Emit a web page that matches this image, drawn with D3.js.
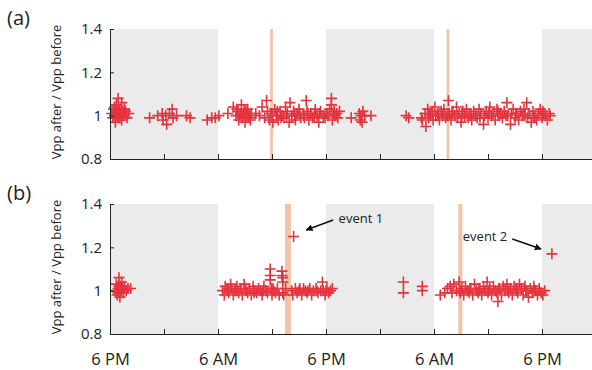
<!DOCTYPE html>
<html>
<head>
<meta charset="utf-8">
<script src="https://cdn.jsdelivr.net/npm/d3@7"></script>
<style>
  html, body { margin: 0; padding: 0; background: #fff; }
  svg { display: block; font-family: "Open Sans", sans-serif; }
</style>
</head>
<body>
<div id="chart"></div>
<script>
// hours after 6 PM on the first evening
const xTicks = [0, 6, 12, 18, 24, 30, 36, 42, 48];
const xLabels = { 0: '6 PM', 12: '6 AM', 24: '6 PM', 36: '6 AM', 48: '6 PM' };
const yTicks = [0.8, 1, 1.2, 1.4];
const nights = [[0, 12], [24, 36], [48, 54]];
const eventsA = [[17.8, 18.1], [37.4, 37.7]];
const eventsB = [[19.45, 20.1], [38.7, 39.15]];

// [hour, Vpp after / Vpp before]
const dataA = [
  [0.2,1.01],[0.3,0.99],[0.4,1.03],[0.5,1.00],[0.6,1.02],[0.6,0.97],[0.7,1.05],[0.8,1.00],[0.9,1.08],[0.9,1.02],
  [1.0,0.99],[1.1,1.03],[1.2,1.01],[1.3,1.06],[1.3,0.98],[1.4,1.02],[1.5,1.00],[1.6,1.03],[1.8,1.01],[1.9,0.99],[2.1,1.01],
  [0.5,1.04],[0.8,1.02],[1.1,1.00],[1.7,1.02],
  [4.4,0.99],[5.3,1.00],[5.8,1.01],[5.9,0.98],[6.2,1.00],[6.3,0.96],[6.6,1.01],[6.9,1.03],[7.0,0.99],[7.4,1.00],[8.5,1.00],[8.9,0.99],
  [10.8,0.98],[11.3,0.99],[11.7,0.99],[12.1,1.00],
  [13.1,1.01],[13.7,1.04],[14.0,1.00],[14.2,1.02],[14.3,0.98],[14.5,1.01],[14.6,1.05],[14.7,0.99],[14.9,1.02],[15.0,0.97],
  [15.2,1.00],[15.3,1.03],[15.5,0.99],[15.7,1.01],[16.2,1.01],[16.6,1.00],[16.9,1.04],[17.2,0.99],[17.4,1.07],[17.5,1.02],
  [17.7,0.98],[17.9,1.01],[18.1,0.97],[18.3,1.03],[18.5,1.00],[18.7,0.98],[18.9,1.02],[19.1,1.00],[19.3,0.99],[19.5,1.04],
  [19.7,1.01],[19.9,0.97],[20.0,1.06],[20.2,1.00],[20.4,1.02],[20.6,0.98],[20.8,1.01],[21.0,1.03],[21.2,0.99],[21.5,1.00],
  [21.8,1.07],[21.9,1.02],[22.1,0.98],[22.3,1.01],[22.5,0.99],[22.8,1.03],[23.0,1.00],[23.2,0.97],[23.4,1.02],[23.7,1.00],
  [23.9,0.99],[24.1,1.01],[24.4,1.03],[24.6,1.08],[24.6,1.05],[24.7,0.98],[24.8,1.01],[25.0,1.00],[25.3,0.99],[25.5,1.02],
  [14.1,1.03],[14.4,1.00],[14.8,1.01],[15.1,1.02],[15.4,1.00],[15.6,0.98],[18.0,1.00],[18.6,1.02],[19.0,0.99],[19.6,1.00],
  [20.5,1.00],[21.1,1.01],[21.6,0.99],[22.0,1.01],[22.7,1.00],[23.3,1.01],[24.2,1.00],[24.9,1.02],[25.2,1.01],
  [26.8,0.99],[27.7,1.01],[27.8,0.98],[27.9,1.00],[28.0,0.97],[28.1,1.02],[28.3,1.00],[29.0,1.00],
  [32.9,1.00],[33.2,0.99],
  [34.6,0.99],[34.7,0.98],[35.0,1.01],[35.1,0.95],[35.3,1.03],[35.4,0.99],[35.6,1.00],[35.8,1.02],[35.9,0.98],[36.1,1.04],
  [36.2,1.00],[36.4,1.01],[36.6,0.98],[36.8,1.02],[37.0,1.00],[37.1,1.03],[37.3,0.99],[37.6,1.07],[37.7,1.01],[37.9,0.98],
  [38.1,1.02],[38.3,1.00],[38.5,1.04],[38.6,0.99],[38.8,1.01],[39.0,0.97],[39.2,1.02],[39.4,1.00],[39.6,1.03],[39.8,0.99],
  [40.0,1.01],[40.2,0.98],[40.4,1.02],[40.6,1.00],[40.8,0.99],[41.0,1.03],[41.2,1.01],[41.5,0.96],[41.6,1.00],[41.8,1.02],
  [42.0,0.99],[42.2,1.04],[42.4,1.00],[42.6,1.01],[42.8,0.98],[43.0,1.03],[43.2,1.00],[43.4,1.01],[43.6,0.99],[43.8,1.02],
  [44.1,1.06],[44.2,1.00],[44.5,0.96],[44.6,1.01],[44.8,1.03],[45.0,0.99],[45.2,1.01],[45.4,0.98],[45.6,1.02],[45.8,1.00],
  [46.0,1.03],[46.3,1.06],[46.4,0.99],[46.6,1.01],[46.8,0.97],[47.0,1.02],[47.2,1.00],[47.4,0.98],[47.6,1.01],[47.8,1.03],
  [48.0,0.99],[48.2,1.01],[48.4,1.00],[48.6,0.98],[48.8,1.01],
  [35.5,1.01],[36.5,1.00],[37.5,1.00],[38.0,1.01],[39.1,1.00],[40.1,1.00],[41.1,0.99],[42.1,1.01],[43.1,1.02],[44.0,1.00],
  [45.1,1.01],[46.1,1.00],[47.1,0.99],[48.1,1.02],[48.9,1.00]
];

const dataB = [
  [0.6,1.00],[0.7,1.03],[0.8,0.98],[0.9,1.01],[1.0,1.06],[1.0,1.02],[1.1,0.97],[1.2,1.00],[1.3,1.04],[1.4,1.01],
  [1.5,0.99],[1.6,1.02],[1.8,1.00],[2.0,1.01],[2.3,1.01],[0.9,0.99],[1.2,1.02],
  [12.5,1.00],[12.7,0.98],[12.8,1.02],[13.0,1.00],[13.2,0.99],[13.4,1.03],[13.5,1.01],[13.7,0.98],[13.9,1.00],[14.1,1.02],
  [14.3,0.99],[14.5,1.01],[14.7,0.98],[14.9,1.03],[15.1,1.00],[15.3,0.99],[15.5,1.01],[15.7,0.98],[15.9,1.02],[16.1,1.00],
  [16.3,0.99],[16.5,1.01],[16.7,1.00],[16.9,0.98],[17.1,1.02],[17.3,1.00],[17.5,0.99],[17.8,1.10],[17.8,1.07],[17.8,1.05],
  [17.9,1.01],[18.0,0.98],[18.2,1.00],[18.4,0.99],[18.6,1.01],[18.8,0.98],[19.1,1.09],[19.1,1.07],[19.2,1.06],[19.2,1.04],
  [19.2,0.99],[19.3,0.98],[19.5,1.01],[20.4,1.25],
  [13.1,1.01],[14.0,1.00],[15.0,1.01],[16.0,0.99],[17.0,1.00],[18.1,1.01],
  [20.2,1.00],[20.3,0.98],[20.6,1.01],[20.8,0.99],[21.0,1.00],[21.3,0.98],[21.5,1.01],[21.7,1.00],[21.9,0.99],[22.2,1.01],
  [22.4,0.98],[22.6,1.00],[22.9,1.01],[23.1,0.99],[23.4,1.00],[23.6,1.04],[23.7,1.00],[23.9,0.98],[24.1,1.01],[24.3,0.99],
  [24.5,1.00],[24.7,1.01],[21.1,1.01],[22.0,1.00],[23.0,1.00],[24.0,1.00],
  [32.6,1.04],[32.6,0.99],[34.7,1.02],[34.7,1.00],
  [36.7,0.98],[37.2,0.99],[37.5,1.01],[37.8,1.02],[38.0,0.99],[38.2,1.03],[38.5,1.00],[38.8,1.04],[38.9,0.99],[39.1,1.01],
  [39.3,0.98],[39.5,1.02],[39.7,1.00],[39.9,0.99],[40.1,1.01],[40.3,0.98],[40.5,1.03],[40.7,1.00],[40.9,0.99],[41.1,1.01],
  [41.3,0.98],[41.5,1.02],[41.7,1.00],[41.9,1.04],[42.0,0.99],[42.2,1.01],[42.4,0.98],[42.6,1.02],[42.8,1.00],[43.0,0.99],
  [43.1,0.95],[43.3,1.01],[43.5,0.98],[43.7,1.02],[43.9,1.00],[44.1,1.03],[44.3,0.99],[44.5,1.01],[44.7,0.98],[44.9,1.02],
  [45.1,1.00],[45.3,0.99],[45.5,1.03],[45.7,1.01],[45.9,0.98],[46.1,1.02],[46.3,1.00],[46.5,0.97],[46.7,1.01],[46.9,0.99],
  [47.1,1.02],[47.3,1.00],[47.5,0.98],[47.7,1.01],[47.9,0.99],[48.1,0.98],[48.3,1.00],
  [39.0,1.00],[40.0,1.01],[41.0,1.00],[42.1,1.00],[43.2,1.01],[44.2,1.00],[45.2,1.01],[46.2,1.00],[47.2,1.00],
  [49.1,1.17]
];

// annotation: label anchor [hour, value], arrow from -> to
const notesB = [
  { text: 'event 1', at: [25.4, 1.335], from: [24.8, 1.326], to: [21.8, 1.28] },
  { text: 'event 2', at: [39.2, 1.248], from: [44.7, 1.238], to: [47.9, 1.192] }
];

const width = 592, height = 370;
const marginLeft = 110, plotRight = 596;
const panels = [
  { id: 'a', top: 29, bottom: 159, data: dataA, events: eventsA, labels: false, notes: [] },
  { id: 'b', top: 204, bottom: 334, data: dataB, events: eventsB, labels: true, notes: notesB }
];

const svg = d3.select('#chart').append('svg')
  .attr('width', width).attr('height', height);

svg.append('defs').append('marker')
  .attr('id', 'arrow').attr('viewBox', '0 0 10 10')
  .attr('refX', 9).attr('refY', 5)
  .attr('markerWidth', 7).attr('markerHeight', 7)
  .attr('markerUnits', 'userSpaceOnUse')
  .attr('orient', 'auto')
  .append('path').attr('d', 'M0,0L10,5L0,10Z').attr('fill', '#111');

const x = d3.scaleLinear([0, 54], [marginLeft, plotRight]);
const cross = 'M-5.5,0H5.5M0,-5.5V5.5';

panels.forEach(p => {
  const y = d3.scaleLinear([0.8, 1.4], [p.bottom, p.top]);
  const g = svg.append('g');

  // night shading
  g.append('g').selectAll('rect').data(nights).join('rect')
    .attr('x', d => x(d[0])).attr('width', d => x(d[1]) - x(d[0]))
    .attr('y', p.top).attr('height', p.bottom - p.top)
    .attr('fill', '#ebebeb');

  // event markers
  g.append('g').selectAll('rect').data(p.events).join('rect')
    .attr('x', d => x(d[0])).attr('width', d => x(d[1]) - x(d[0]))
    .attr('y', p.top).attr('height', p.bottom - p.top)
    .attr('fill', '#f1c3a7');

  // points
  g.append('g').selectAll('path').data(p.data).join('path')
    .attr('transform', d => `translate(${x(d[0])},${y(d[1])})`)
    .attr('d', cross)
    .attr('stroke', '#e5323c').attr('stroke-width', 1.6).attr('fill', 'none');

  // x axis
  g.append('g')
    .attr('transform', `translate(0,${p.bottom})`)
    .call(d3.axisBottom(x).tickValues(xTicks).tickSizeInner(-5).tickSizeOuter(0).tickPadding(19)
      .tickFormat(d => p.labels ? (xLabels[d] || '') : ''))
    .call(a => a.select('.domain').attr('stroke', '#222'))
    .call(a => a.selectAll('.tick line').attr('stroke', '#222'))
    .call(a => a.selectAll('text').attr('font-size', 16.5).attr('fill', '#222')
      .attr('font-family', '"Open Sans", sans-serif'));

  // y axis
  g.append('g')
    .attr('transform', `translate(${marginLeft},0)`)
    .call(d3.axisLeft(y).tickValues(yTicks).tickSizeInner(-4).tickSizeOuter(0).tickPadding(8)
      .tickFormat(d => String(+d.toFixed(1))))
    .call(a => a.select('.domain').attr('stroke', '#222'))
    .call(a => a.selectAll('.tick line').attr('stroke', '#222'))
    .call(a => a.selectAll('text').attr('font-size', 15).attr('fill', '#222')
      .attr('font-family', '"Open Sans", sans-serif'));

  // y label
  g.append('text')
    .attr('transform', `translate(61,${(p.top + p.bottom) / 2 - 2}) rotate(-90)`)
    .attr('text-anchor', 'middle')
    .attr('font-size', 13).attr('fill', '#222')
    .text('Vpp after / Vpp before');

  // panel letter
  g.append('text')
    .attr('x', 7).attr('y', p.top - 4)
    .attr('font-size', 20).attr('fill', '#222')
    .text(`(${p.id})`);

  // annotations
  p.notes.forEach(n => {
    g.append('text')
      .attr('x', x(n.at[0])).attr('y', y(n.at[1]))
      .attr('dy', '0.35em').attr('font-size', 13).attr('fill', '#222')
      .text(n.text);
    g.append('line')
      .attr('x1', x(n.from[0])).attr('y1', y(n.from[1]))
      .attr('x2', x(n.to[0])).attr('y2', y(n.to[1]))
      .attr('stroke', '#111').attr('stroke-width', 1.6)
      .attr('marker-end', 'url(#arrow)');
  });
});
</script>
</body>
</html>
